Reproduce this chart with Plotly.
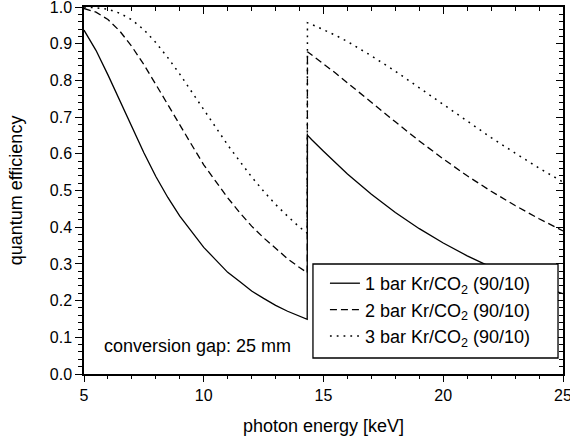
import plotly.graph_objects as go

# photon energy [keV]
energy_below = [5, 5.5, 6, 6.5, 7, 7.5, 8, 8.5, 9, 9.5, 10, 10.5, 11, 11.5, 12, 12.5, 13, 13.5, 14, 14.32]
energy_above = [14.33, 14.5, 15, 15.5, 16, 17, 18, 19, 20, 21, 22, 23, 24, 25]

# quantum efficiency, below and above the Kr K-edge
qe_1bar_below = [0.937, 0.882, 0.815, 0.744, 0.672, 0.603, 0.538, 0.481, 0.430, 0.386, 0.345, 0.311, 0.277, 0.252,
                 0.226, 0.206, 0.187, 0.171, 0.157, 0.149]
qe_1bar_above = [0.651, 0.639, 0.607, 0.575, 0.545, 0.490, 0.440, 0.396, 0.357, 0.322, 0.291, 0.264, 0.240, 0.219]
qe_2bar_below = [0.996, 0.986, 0.966, 0.934, 0.892, 0.843, 0.789, 0.733, 0.678, 0.624, 0.570, 0.524, 0.480, 0.440,
                 0.403, 0.371, 0.342, 0.314, 0.290, 0.276]
qe_2bar_above = [0.878, 0.869, 0.845, 0.820, 0.793, 0.740, 0.687, 0.635, 0.586, 0.540, 0.498, 0.459, 0.423, 0.390]
qe_3bar_below = [0.9997, 0.998, 0.994, 0.983, 0.965, 0.938, 0.903, 0.862, 0.817, 0.769, 0.719, 0.671, 0.624, 0.580,
                 0.537, 0.498, 0.462, 0.430, 0.400, 0.384]
qe_3bar_above = [0.957, 0.953, 0.939, 0.923, 0.906, 0.867, 0.825, 0.780, 0.734, 0.688, 0.644, 0.602, 0.561, 0.523]

series_names = ["1 bar Kr/CO<sub>2</sub> (90/10)", "2 bar Kr/CO<sub>2</sub> (90/10)", "3 bar Kr/CO<sub>2</sub> (90/10)"]
series_below = [qe_1bar_below, qe_2bar_below, qe_3bar_below]
series_above = [qe_1bar_above, qe_2bar_above, qe_3bar_above]
dashes = ["solid", "7px,4px", "1.8px,5px"]
widths = [1.3, 1.3, 1.5]

FONT = "Liberation Sans, Arial, sans-serif"

fig = go.Figure()
for name, yb, ya, d, w in zip(series_names, series_below, series_above, dashes, widths):
    fig.add_trace(go.Scatter(
        x=energy_below + energy_above, y=yb + ya, mode="lines", name=name,
        line=dict(color="black", width=w, dash=d),
    ))

# invisible trace to activate mirrored top/right axes
fig.add_trace(go.Scatter(x=[5], y=[0], xaxis="x2", yaxis="y2", mode="markers",
                         marker=dict(opacity=0), showlegend=False, hoverinfo="skip"))

fig.add_annotation(text="conversion gap: 25 mm", xref="paper", yref="paper",
                   x=0.037, y=0.077, xanchor="left", yanchor="middle", showarrow=False,
                   font=dict(family=FONT, size=18, color="black"))

# legend frame (white box covering the curves)
fig.add_shape(type="rect", xref="paper", yref="paper", x0=0.478, x1=0.9896, y0=0.0436, y1=0.2997,
              fillcolor="white", line=dict(color="black", width=1.3), layer="above")

axis_common = dict(showline=True, linecolor="black", linewidth=1.5, showgrid=False,
                   zeroline=False, mirror=False, automargin=False)

fig.update_layout(
    width=570, height=444,
    margin=dict(l=84, r=7, t=7, b=70),
    plot_bgcolor="white", paper_bgcolor="white",
    font=dict(family=FONT, size=16, color="black"),
    xaxis=dict(range=[5, 25], dtick=5, tick0=5, ticks="outside", ticklen=6, tickwidth=1.3,
               tickcolor="black", minor=dict(dtick=1, ticks="outside", ticklen=3, tickwidth=1.3, tickcolor="black"),
               title=dict(text="photon energy [keV]", font=dict(size=18), standoff=16),
               tickfont=dict(size=16), ticklabeloverflow="allow", **axis_common),
    yaxis=dict(range=[0, 1], dtick=0.1, tick0=0, tickformat=".1f", ticks="outside", ticklen=7, tickwidth=1.3,
               tickcolor="black", minor=dict(dtick=0.02, ticks="outside", ticklen=4, tickwidth=1.3, tickcolor="black"),
               title=dict(text="quantum efficiency", font=dict(size=18), standoff=22),
               tickfont=dict(size=16), ticklabeloverflow="allow", **axis_common),
    xaxis2=dict(range=[5, 25], overlaying="x", side="top", dtick=5, tick0=5, ticks="inside", ticklen=7,
                tickwidth=1.3, tickcolor="black", showticklabels=False,
                minor=dict(dtick=1, ticks="inside", ticklen=4, tickwidth=1.3, tickcolor="black"),
                **axis_common),
    yaxis2=dict(range=[0, 1], overlaying="y", side="right", dtick=0.1, tick0=0, ticks="inside", ticklen=7,
                tickwidth=1.3, tickcolor="black", showticklabels=False,
                minor=dict(dtick=0.02, ticks="inside", ticklen=4, tickwidth=1.3, tickcolor="black"),
                **axis_common),
    legend=dict(x=0.503, y=0.297, xanchor="left", yanchor="top", bgcolor="rgba(0,0,0,0)",
                borderwidth=0, font=dict(size=18), tracegroupgap=0),
    showlegend=True,
)

fig.write_html("out.html")
